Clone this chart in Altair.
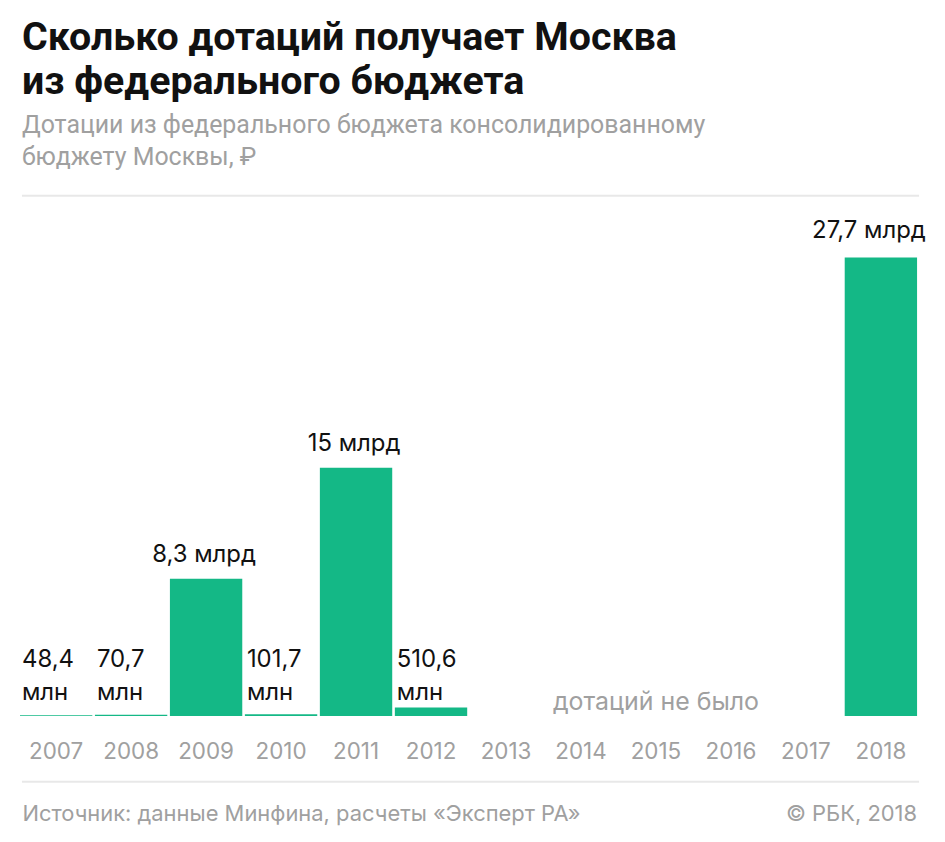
import altair as alt
import pandas as pd

FONT = "Roboto"
LFONT = "Inter"
GREEN = "#14b886"
GRAY = "#a0a0a0"
BLACK = "#111111"

years = ["2007", "2008", "2009", "2010", "2011", "2012",
         "2013", "2014", "2015", "2016", "2017", "2018"]
# subsidies, billion rubles
values = [0.0484, 0.0707, 8.3, 0.1017, 15.0, 0.5106,
          None, None, None, None, None, 27.7]
labels = ["48,4\nмлн", "70,7\nмлн", "8,3 млрд", "101,7\nмлн", "15 млрд", "510,6\nмлн",
          "", "", "", "", "", "27,7 млрд"]
kinds = ["small", "small", "big", "small", "big", "small",
         "none", "none", "none", "none", "none", "edge"]

title_lines = ["Сколько дотаций получает Москва", "из федерального бюджета"]
subtitle_lines = ["Дотации из федерального бюджета консолидированному", "бюджету Москвы, ₽"]
source_text = "Источник: данные Минфина, расчеты «Эксперт РА»"
copyright_text = "© РБК, 2018"
no_data_year = "2015"
no_data_text = "дотаций не было"

df = pd.DataFrame({"year": years, "value": values, "label": labels, "kind": kinds})
note_df = pd.DataFrame({"year": [no_data_year], "text": [no_data_text]})
one = pd.DataFrame({"text": [copyright_text]})

W, H = 900, 522


def xenc(band_position=None):
    kw = {}
    if band_position is not None:
        kw["bandPosition"] = band_position
    return alt.X(
        "year:N", sort=years,
        scale=alt.Scale(domain=years, paddingInner=0.035, paddingOuter=0),
        axis=alt.Axis(
            title=source_text, labelAngle=0, ticks=False, domain=False, grid=False,
            labelFont=LFONT, labelFontSize=22.5, labelColor=GRAY, labelPadding=25,
            titleFont=LFONT, titleFontSize=22, titleFontWeight="normal", titleColor=GRAY,
            titleAnchor="start", titleAlign="left", titleBaseline="middle",
            titleX=2, titleY=98,
        ),
        **kw,
    )


yscale = alt.Scale(domain=[0, 31.43], nice=False)
yenc = alt.Y("value:Q", scale=yscale, axis=None)

base = alt.Chart(df)

bars = base.mark_bar(color=GREEN).encode(x=xenc(), y=yenc)

big = base.transform_filter("datum.kind == 'big'").mark_text(
    baseline="alphabetic", dy=-17, dx=-2, fontSize=24, font=LFONT, color=BLACK
).encode(x=xenc(), y=yenc, text="label:N")

edge = base.transform_filter("datum.kind == 'edge'").mark_text(
    baseline="alphabetic", dy=-20, dx=-12, fontSize=24, font=LFONT, color=BLACK
).encode(x=xenc(), y=yenc, text="label:N")

small = base.transform_filter("datum.kind == 'small'").mark_text(
    align="left", baseline="bottom", dx=2, dy=-44, fontSize=24, font=LFONT,
    color=BLACK, lineBreak="\n", lineHeight=33
).encode(x=xenc(0), y=alt.datum(0, scale=yscale), text="label:N")

note = alt.Chart(note_df).mark_text(
    baseline="bottom", dy=-1, fontSize=25, font=LFONT, color=GRAY
).encode(x=xenc(), y=alt.datum(0), text="text:N")

copy = alt.Chart(one).mark_text(
    align="right", baseline="middle", fontSize=22, font=LFONT, color=GRAY
).encode(x=alt.value(W), y=alt.value(H + 98), text="text:N")

rule_top = alt.Chart(one).mark_rule(color="#e8e8e8", strokeWidth=2).encode(
    x=alt.value(2), x2=alt.value(W + 2), y=alt.value(0))
rule_bottom = alt.Chart(one).mark_rule(color="#e8e8e8", strokeWidth=2).encode(
    x=alt.value(2), x2=alt.value(W + 2), y=alt.value(H + 66))

chart = alt.layer(rule_top, rule_bottom, bars, big, edge, small, note, copy).properties(
    width=W, height=H,
    title=alt.TitleParams(
        text=title_lines, subtitle=subtitle_lines, anchor="start", frame="group",
        font=FONT, fontSize=39.5, fontWeight="bold", color=BLACK, lineHeight=44,
        subtitleFont=FONT, subtitleFontSize=25, subtitleColor=GRAY,
        subtitleLineHeight=32, subtitlePadding=11, offset=24, dx=2,
    ),
    autosize=alt.AutoSizeParams(type="none"),
    padding={"left": 12, "top": 187, "right": 20, "bottom": 115},
).configure_view(stroke=None)

chart.save("out.html", embed_options={"renderer": "svg", "actions": False})
